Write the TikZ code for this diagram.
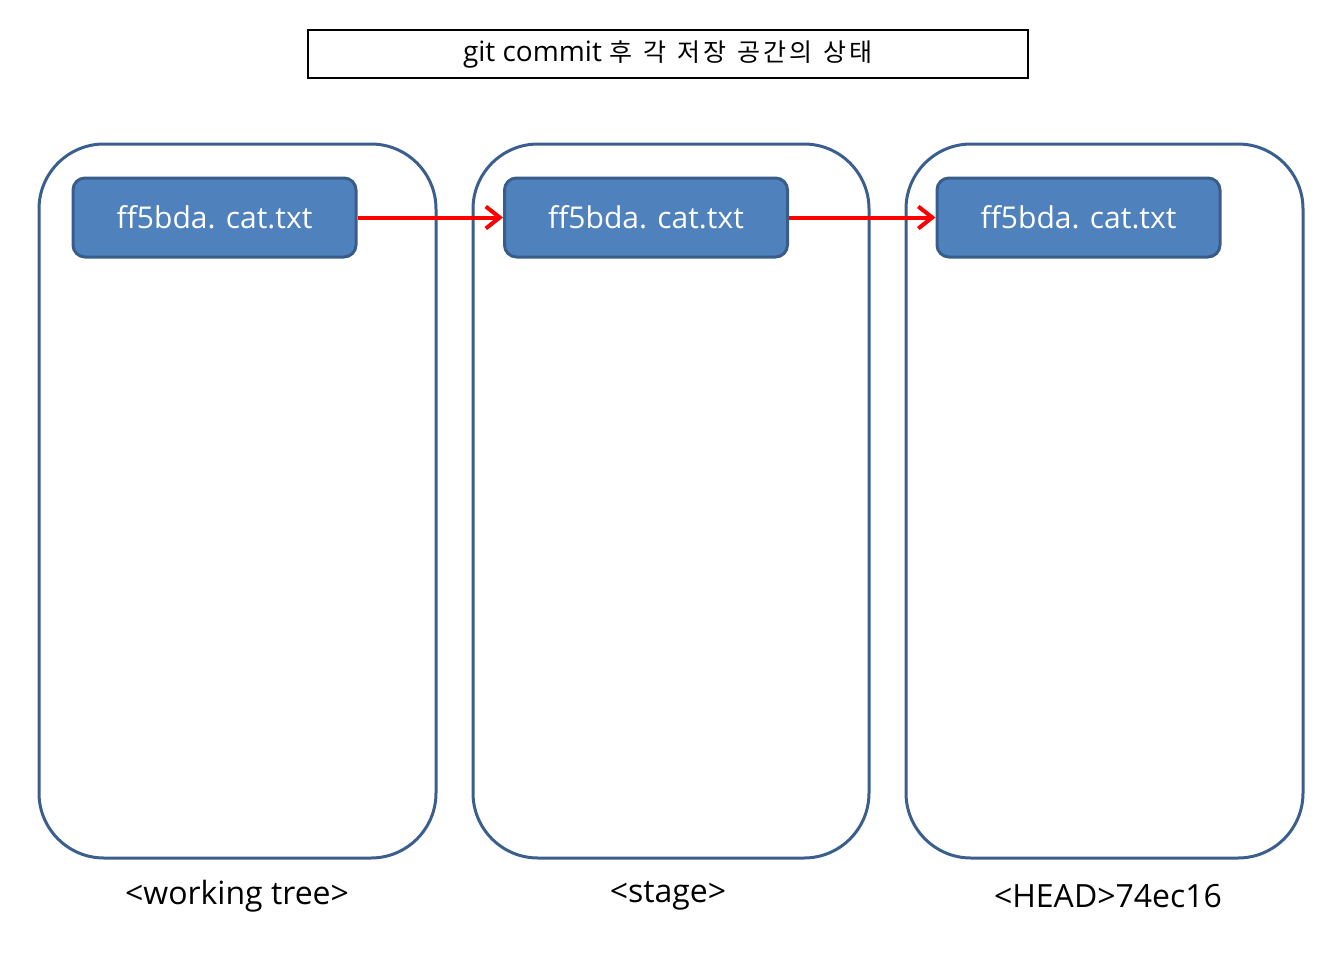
\documentclass[tikz,border=0pt]{standalone}
\usepackage{fontspec}
\setmainfont{Open Sans}[Ligatures=NoCommon]
\newfontfamily\kr{Noto Sans CJK KR}[LetterSpace=12,WordSpace=1.3]
\usetikzlibrary{arrows.meta}
\definecolor{boxline}{HTML}{3A5F8E}
\definecolor{filefill}{HTML}{4F81BD}
\definecolor{fileline}{HTML}{385D8A}
\begin{document}
\begin{tikzpicture}[x=1pt,y=-1pt,
  area/.style={draw=boxline,line width=3pt,rounded corners=65pt},
  filebox/.style={draw=fileline,fill=filefill,line width=3pt,rounded corners=12pt,
    minimum width=283pt,minimum height=79pt,inner sep=0pt,text=white,font=\fontsize{30}{34}\selectfont},
  lbl/.style={font=\fontsize{32}{36}\selectfont,inner sep=0pt},
  flow/.style={draw=red,line width=4pt,-{Straight Barb[length=14pt,width=22pt,line width=4pt]}}]
\useasboundingbox (0,0) rectangle (1342,953);
\node[draw,line width=1.5pt,minimum width=720pt,minimum height=48pt,inner sep=0pt,
  font=\fontsize{28}{32}\selectfont] (title) at (668,54) {git commit {\kr\fontsize{25}{30}\selectfont 후 각 저장 공간의 상태}};
\draw[area] (39,144) rectangle (436,858);
\draw[area] (473,144) rectangle (869,858);
\draw[area] (906,144) rectangle (1303,858);
\node[filebox] (f1) at (214.5,217.5) {ff5bda. cat.txt};
\node[filebox] (f2) at (646,217.5) {ff5bda. cat.txt};
\node[filebox] (f3) at (1078.5,217.5) {ff5bda. cat.txt};
\draw[flow] (f1.east) -- (f2.west);
\draw[flow] (f2.east) -- (f3.west);
\node[lbl] (l1) at (237,896) {<working tree>};
\node[lbl] (l2) at (668,896) {<stage>};
\node[lbl] (l3) at (1108,896) {<HEAD>74ec16};
\end{tikzpicture}
\end{document}
